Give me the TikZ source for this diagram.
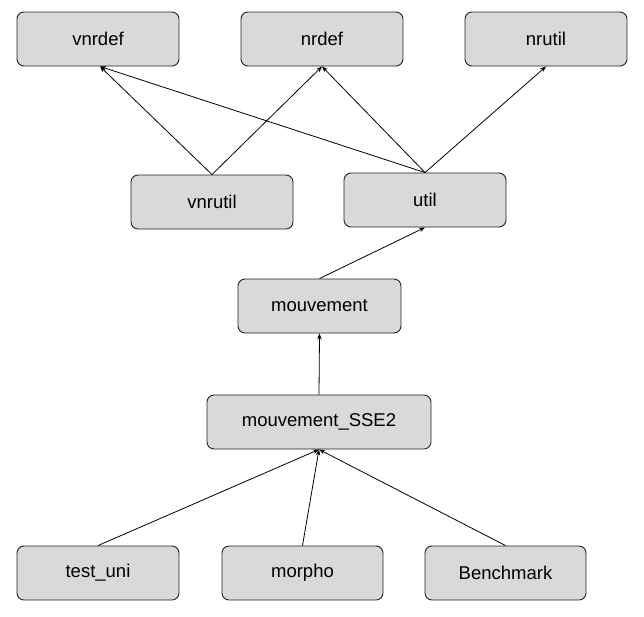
\documentclass[tikz,border=0pt]{standalone}
\usepackage{fontspec}
\setmainfont{Liberation Sans}
\usepackage{tikz}
\usetikzlibrary{arrows.meta,positioning,calc}
\definecolor{boxgray}{HTML}{D9D9D9}
\definecolor{boxline}{HTML}{222222}
\tikzset{
  module/.style={draw=boxline,fill=boxgray,rounded corners=7pt,line width=0.9pt,
    minimum width=162pt,minimum height=54pt,inner sep=0pt,
    font=\fontsize{18.5}{21}\selectfont},
  dep/.style={-{Stealth[length=6pt,width=4.5pt]},line width=0.8pt}
}

\begin{document}
\begin{tikzpicture}[x=1pt,y=-1pt]
  \useasboundingbox (0,0) rectangle (644,616);

  % Top row
  \node[module] (vnrdef) at (98,39) {vnrdef};
  \node[module] (nrdef) at (322,39) {nrdef};
  \node[module] (nrutil) at (546,39) {nrutil};

  % Utility layer
  \node[module] (vnrutil) at (212,202) {vnrutil};
  \node[module] (util) at (425,200) {util};

  % Core
  \node[module,minimum width=163pt] (mouv) at (319.5,306) {mouvement};
  \node[module,minimum width=224pt] (sse) at (319,422) {mouvement\_SSE2};

  % Bottom row
  \node[module] (testuni) at (98,573) {test\_uni};
  \node[module,minimum width=161pt] (morpho) at (302.5,573) {morpho};
  \node[module,minimum width=161pt] (bench) at (505.5,573) {Benchmark};

  % Dependencies
  \draw[dep] (vnrutil.north) -- ($(vnrdef.south)+(2,0)$);
  \draw[dep] (vnrutil.north) -- (nrdef.south);
  \draw[dep] (util.north) -- ($(vnrdef.south)+(2,0)$);
  \draw[dep] (util.north) -- (nrdef.south);
  \draw[dep] (util.north) -- (nrutil.south);
  \draw[dep] (mouv.north) -- (util.south);
  \draw[dep] (sse.north) -- (mouv.south);
  \draw[dep] (testuni.north) -- (sse.south);
  \draw[dep] (morpho.north) -- (sse.south);
  \draw[dep] (bench.north) -- (sse.south);
\end{tikzpicture}
\end{document}
